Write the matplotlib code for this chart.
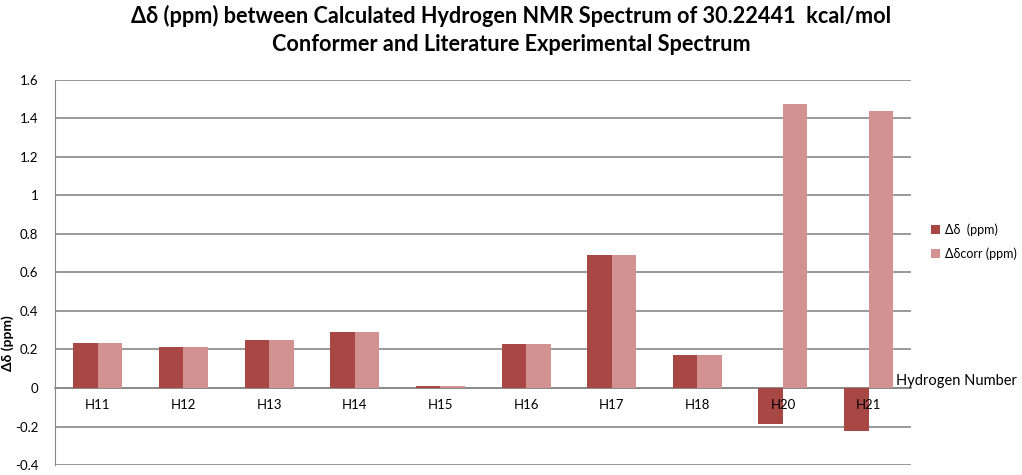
import numpy as np
import matplotlib.pyplot as plt

hydrogens = ['H11', 'H12', 'H13', 'H14', 'H15', 'H16', 'H17', 'H18', 'H20', 'H21']
delta = [0.234, 0.213, 0.249, 0.290, 0.012, 0.230, 0.690, 0.171, -0.185, -0.223]
delta_corr = [0.234, 0.213, 0.249, 0.290, 0.012, 0.230, 0.690, 0.171, 1.475, 1.440]

dark = '#A94745'
light = '#D39292'
grid_col = '#888888'

plt.rcParams['font.family'] = ['Lato', 'DejaVu Sans']

fig = plt.figure(figsize=(10.22, 4.75), dpi=100)
ax = fig.add_axes([0.0538, 0.021, 0.838, 0.811])

x = np.arange(len(hydrogens))
w = 0.286
ax.bar(x - w / 2, delta, w, color=dark, label='Δδ  (ppm)', zorder=3)
ax.bar(x + w / 2, delta_corr, w, color=light, label='Δδcorr (ppm)', zorder=3)

ax.set_xlim(-0.5, len(hydrogens) - 0.5)
ax.set_ylim(-0.4, 1.6)
ax.set_yticks(np.arange(-0.4, 1.61, 0.2))
ax.set_yticklabels(['-0.4', '-0.2', '0', '0.2', '0.4', '0.6', '0.8', '1', '1.2', '1.4', '1.6'])
ax.yaxis.grid(True, color=grid_col, linewidth=1.2, zorder=0)
ax.set_axisbelow(True)

ax.spines['top'].set_visible(False)
ax.spines['right'].set_visible(False)
ax.spines['left'].set_color(grid_col)
ax.spines['bottom'].set_position(('data', 0))
ax.spines['bottom'].set_color(grid_col)
ax.spines['bottom'].set_linewidth(1.2)
ax.spines['bottom'].set_zorder(2)

# category labels sit just under the zero line, drawn on top of the bars
ax.set_xticks(x)
ax.set_xticklabels([])
ax.tick_params(axis='x', length=0)
for xi, name in zip(x, hydrogens):
    ax.text(xi, -0.09, name, ha='center', va='center', fontsize=9.5, zorder=5)
ax.tick_params(axis='y', length=0, labelsize=9.5, pad=12)

fig.text(8 / 1022, 1 - 343 / 475, 'Δδ (ppm)', fontsize=10, fontweight='bold',
         rotation=90, ha='center', va='center')

fig.text(0.877, 0.198, 'Hydrogen Number', fontsize=10.5, ha='left', va='center')

fig.suptitle('Δδ (ppm) between Calculated Hydrogen NMR Spectrum of 30.22441  kcal/mol\nConformer and Literature Experimental Spectrum',
             fontsize=15.6, fontweight='bold', y=0.99, x=0.5, linespacing=1.4)

ax.legend(loc='center left', bbox_to_anchor=(1.01, 0.58), frameon=False,
          fontsize=9, handlelength=0.7, handleheight=0.7, handletextpad=0.4, labelspacing=0.9)

fig.savefig('out.png', dpi=100)
